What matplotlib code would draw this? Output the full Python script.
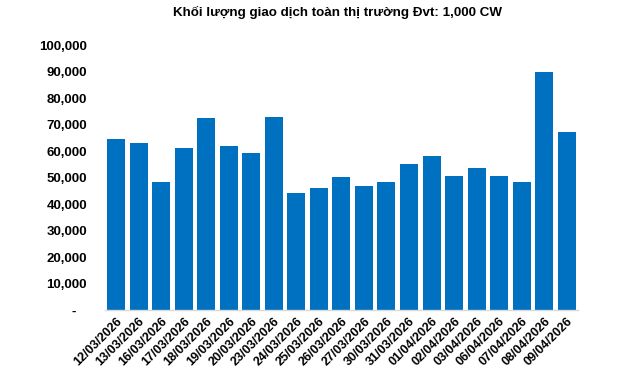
import matplotlib
matplotlib.use('Agg')
import matplotlib.pyplot as plt
from matplotlib.ticker import FuncFormatter

plt.rcParams['font.family'] = ['Liberation Sans', 'DejaVu Sans']

# Données
dates = ['12/03/2026', '13/03/2026', '16/03/2026', '17/03/2026', '18/03/2026',
         '19/03/2026', '20/03/2026', '23/03/2026', '24/03/2026', '25/03/2026',
         '26/03/2026', '27/03/2026', '30/03/2026', '31/03/2026', '01/04/2026',
         '02/04/2026', '03/04/2026', '06/04/2026', '07/04/2026', '08/04/2026',
         '09/04/2026']
volume = [64600, 63100, 48400, 61200, 72500, 62000, 59400, 72900, 44200, 46100,
          50300, 46900, 48400, 55200, 58200, 50700, 53700, 50700, 48400, 89800,
          67300]

fig = plt.figure(figsize=(6.4, 3.7), dpi=100)
ax = fig.add_axes([0.164, 0.162, 0.739, 0.716])

x = range(len(dates))
ax.bar(x, volume, width=0.8, color='#0070C0')

ax.set_xlim(-0.5, len(dates) - 0.5)
ax.set_ylim(0, 100000)
ax.set_yticks(range(0, 100001, 10000))

def fmt(v, pos):
    if v == 0:
        return '-   '
    return f'{int(v):,}'

ax.yaxis.set_major_formatter(FuncFormatter(fmt))
ax.set_xticks(list(x))
ax.set_xticklabels(dates, rotation=45, ha='right', rotation_mode='anchor')

for lab in ax.get_yticklabels():
    lab.set_fontweight('bold')
    lab.set_fontsize(9.5)
for lab in ax.get_xticklabels():
    lab.set_fontweight('bold')
    lab.set_fontsize(9)

ax.tick_params(axis='y', length=0, pad=13)
ax.tick_params(axis='x', length=0, pad=4)
for s in ['top', 'right', 'left']:
    ax.spines[s].set_visible(False)
ax.spines['bottom'].set_color('#d9d9d9')
ax.spines['bottom'].set_linewidth(1)

fig.suptitle('Khối lượng giao dịch toàn thị trường Đvt: 1,000 CW',
             fontsize=9.6, fontweight='bold', x=0.527, y=0.985)

fig.savefig('out.png', dpi=100)
